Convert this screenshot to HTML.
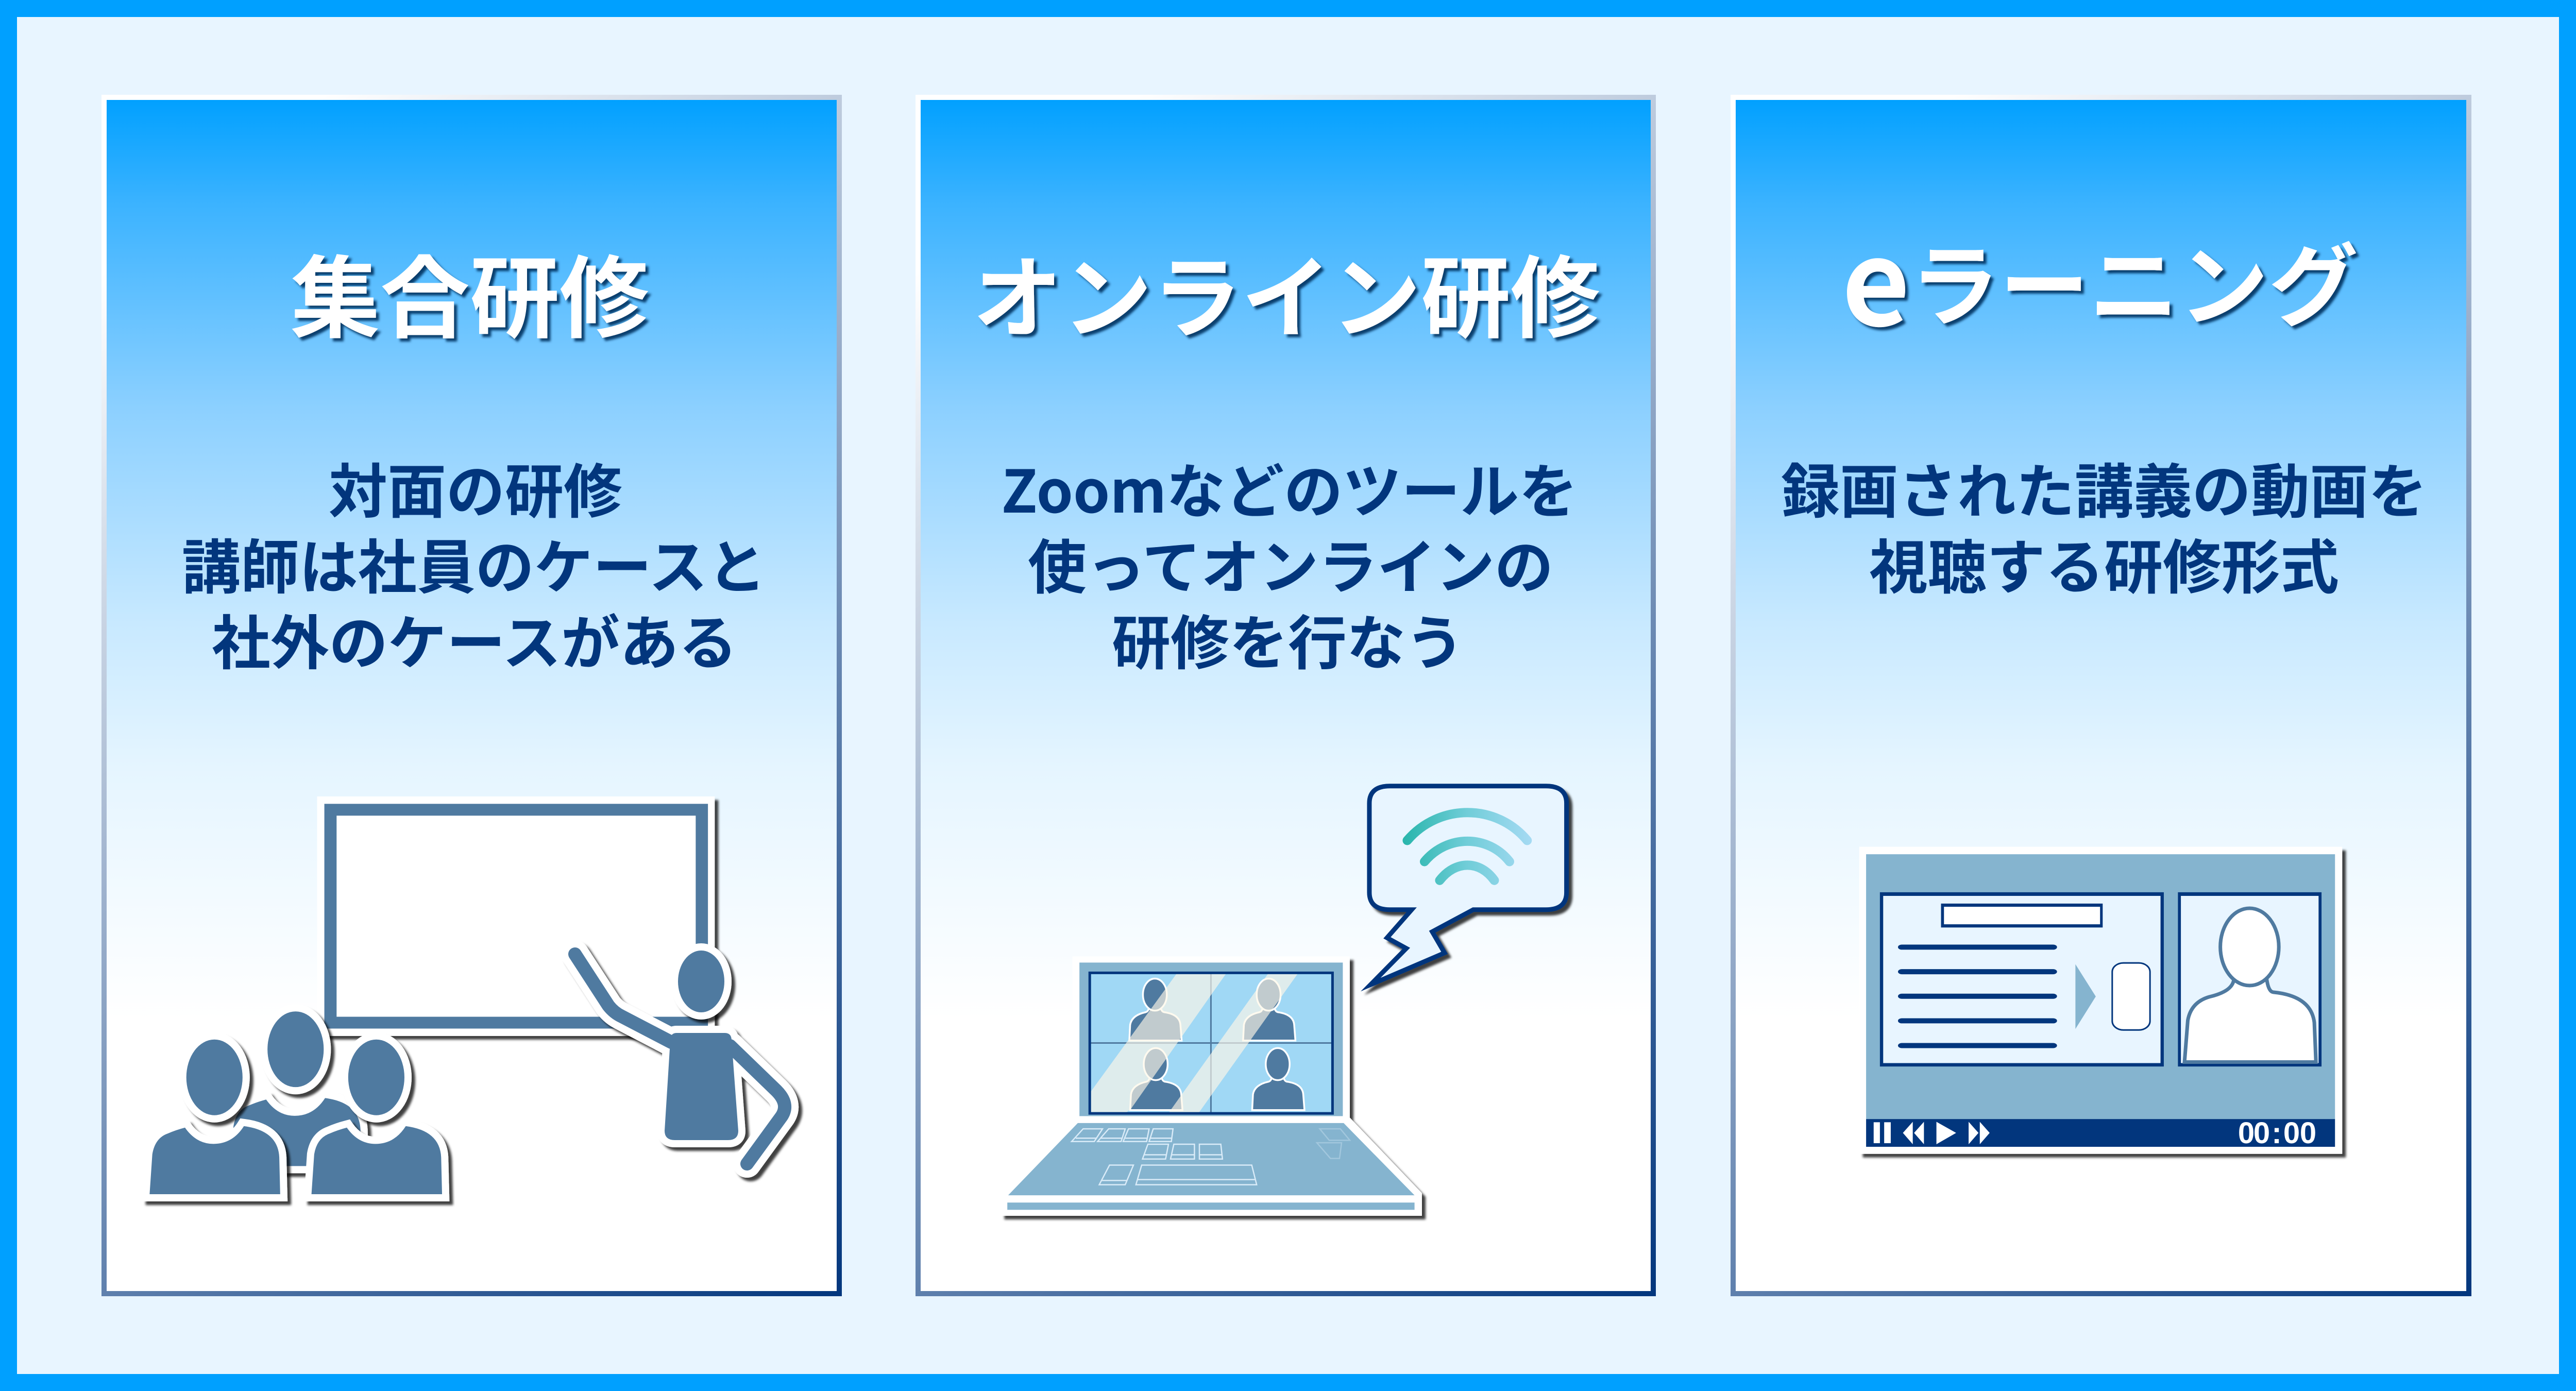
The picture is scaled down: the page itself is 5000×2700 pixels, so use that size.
<!DOCTYPE html>
<html lang="ja"><head><meta charset="utf-8"><title>研修形式</title>
<style>
html,body{margin:0;padding:0;background:#00a0ff}
svg{display:block}
.t{font-family:"Noto Sans CJK JP","Liberation Sans",sans-serif;font-weight:700;text-anchor:middle}
.h{font-size:174px;fill:#fff}
.b{font-size:114px;fill:#02367d}
</style></head><body>
<svg xmlns="http://www.w3.org/2000/svg" width="5000" height="2700" viewBox="0 0 5000 2700">
<defs>
<linearGradient id="f" x1="0" y1="0" x2="0" y2="1">
<stop offset="0" stop-color="#00a0ff"/><stop offset=".09" stop-color="#3cb3ff"/><stop offset=".26" stop-color="#8cd0ff"/><stop offset=".44" stop-color="#c8e9ff"/><stop offset=".56" stop-color="#e5f5ff"/><stop offset=".77" stop-color="#fff"/><stop offset="1" stop-color="#fff"/>
</linearGradient>
<linearGradient id="s1" gradientUnits="userSpaceOnUse" x1="197" y1="184" x2="1895" y2="2309"><stop offset=".1" stop-color="#fff"/><stop offset="1" stop-color="#02367d"/></linearGradient>
<linearGradient id="s2" gradientUnits="userSpaceOnUse" x1="1777" y1="184" x2="3475" y2="2309"><stop offset=".1" stop-color="#fff"/><stop offset="1" stop-color="#02367d"/></linearGradient>
<linearGradient id="s3" gradientUnits="userSpaceOnUse" x1="3359" y1="184" x2="5057" y2="2309"><stop offset=".1" stop-color="#fff"/><stop offset="1" stop-color="#02367d"/></linearGradient>
<linearGradient id="w" gradientUnits="userSpaceOnUse" x1="1030" y1="0" x2="1345" y2="0"><stop offset="0" stop-color="#27b5ab"/><stop offset=".5" stop-color="#70cdd8"/><stop offset="1" stop-color="#a5daf3"/></linearGradient>
<filter id="ts" x="-10%" y="-20%" width="120%" height="140%"><feDropShadow dx="6" dy="6" stdDeviation="2.5" flood-color="#06325f" flood-opacity=".9"/></filter>
<filter id="sh" x="-10%" y="-10%" width="120%" height="120%"><feDropShadow dx="7" dy="7" stdDeviation="2.5" flood-color="#000" flood-opacity=".75"/></filter>
<g id="p1body">
<path vector-effect="non-scaling-stroke" d="M-143,395 L-137,260 Q-131,205 -103,190 Q-85,178 -65,170 Q-40,225 -2,225 Q40,225 65,165 Q140,180 143,270 L145,395 Z"/>
<ellipse vector-effect="non-scaling-stroke" cx="0" cy="0" rx="62" ry="128"/>
</g>
<g id="p2">
<path vector-effect="non-scaling-stroke" d="M-62,152 L-60,100 Q-56,68 -22,58 Q-15,55 -14,40 L14,40 Q15,55 22,58 Q60,65 62,100 L65,152 Z"/>
<ellipse vector-effect="non-scaling-stroke" cx="0" cy="0" rx="29" ry="53"/>
</g>
</defs>

<rect width="5000" height="2700" fill="#00a0ff"/>
<rect x="33" y="33" width="4934" height="2634" fill="#e8f5ff"/>

<rect x="202" y="189" width="1427" height="2322" fill="url(#f)" stroke="url(#s1)" stroke-width="10"/>
<rect x="1782" y="189" width="1427" height="2322" fill="url(#f)" stroke="url(#s2)" stroke-width="10"/>
<rect x="3364" y="189" width="1428" height="2322" fill="url(#f)" stroke="url(#s3)" stroke-width="10"/>

<g class="t h" filter="url(#ts)"><text x="912" y="641">集合研修</text></g>
<g class="t h" filter="url(#ts)"><text x="2497" y="641">オンライン研修</text></g>
<g class="t h" filter="url(#ts)"><text x="3575" y="632" font-size="228" style="font-size:228px;text-anchor:start">e</text><text x="3707" y="618" style="text-anchor:start">ラーニング</text></g>

<g class="t b">
<text x="923" y="995">対面の研修</text>
<text x="920" y="1142">講師は社員のケースと</text>
<text x="921" y="1289">社外のケースがある</text>
<text x="2503" y="995">Zoomなどのツールを</text>
<text x="2505" y="1142">使ってオンラインの</text>
<text x="2500" y="1289">研修を行なう</text>
<text x="4084" y="995">録画された講義の動画を</text>
<text x="4084" y="1142">視聴する研修形式</text>
</g>

<!-- scene 1 -->
<g filter="url(#sh)"><g transform="translate(230,1500) scale(.8801,.574)">
<rect x="438" y="80" width="877" height="810" fill="#fff"/>
<rect x="454" y="105" width="846" height="760" fill="#4f7aa0"/>
<rect x="481" y="145" width="792" height="680" fill="#fff"/>
</g></g>
<g filter="url(#sh)"><g transform="translate(227,1500) scale(.8801,.574)" fill="#4f7aa0" stroke="#fff" stroke-width="28" stroke-linejoin="miter" stroke-miterlimit="3" paint-order="stroke">
<use href="#p1body" transform="translate(394,935)"/>
</g></g>
<g filter="url(#sh)"><g transform="translate(227,1500) scale(.8801,.574)" fill="#4f7aa0" stroke="#fff" stroke-width="28" stroke-linejoin="miter" stroke-miterlimit="3" paint-order="stroke">
<use href="#p1body" transform="translate(215,1030)"/>
</g></g>
<g filter="url(#sh)"><g transform="translate(227,1500) scale(.8801,.574)" fill="#4f7aa0" stroke="#fff" stroke-width="28" stroke-linejoin="miter" stroke-miterlimit="3" paint-order="stroke">
<use href="#p1body" transform="translate(572,1030)"/>
</g></g>
<g filter="url(#sh)">
<g fill="none" stroke="#fff" stroke-width="54" stroke-linecap="round" stroke-linejoin="round">
<path d="M1116,1852 L1181,1952 Q1192,1966 1207,1973 L1303,2023"/>
<path d="M1417,2030 L1507,2117 Q1533,2143 1517,2167 L1450,2259"/>
</g>
<path d="M1313,2005 H1407 Q1420,2005 1420,2020 L1433,2195 Q1433,2213 1413,2213 H1310 Q1290,2213 1290,2195 L1301,2020 Q1301,2005 1313,2005 Z" fill="#fff" stroke="#fff" stroke-width="28"/>
<ellipse cx="1361" cy="1905" rx="45" ry="60" fill="#fff" stroke="#fff" stroke-width="28"/>
<g fill="none" stroke="#4f7aa0" stroke-width="26" stroke-linecap="round" stroke-linejoin="round">
<path d="M1116,1852 L1181,1952 Q1192,1966 1207,1973 L1303,2023"/>
<path d="M1417,2030 L1507,2117 Q1533,2143 1517,2167 L1450,2259"/>
</g>
<path d="M1313,2005 H1407 Q1420,2005 1420,2020 L1433,2195 Q1433,2213 1413,2213 H1310 Q1290,2213 1290,2195 L1301,2020 Q1301,2005 1313,2005 Z" fill="#4f7aa0"/>
<ellipse cx="1361" cy="1905" rx="45" ry="60" fill="#4f7aa0"/>
</g>

<!-- scene 2 -->
<g filter="url(#sh)"><g transform="translate(1896,1480) scale(.8,.5867)">
<path d="M232,642 H905 V1175 L1080,1425 V1500 H58 V1430 L232,1180 Z" fill="#fff"/>
</g></g>
<g transform="translate(1896,1480) scale(.8,.5867)">
<rect x="249" y="662" width="639" height="508" fill="#85b4cf"/>
<rect x="272" y="692" width="593" height="473" fill="#a0d8f5"/>
<path vector-effect="non-scaling-stroke" d="M568,695 V1162 M275,928 H862" stroke="#4f7aa0" stroke-width="3" fill="none"/>
<g fill="#4f7aa0" stroke="#fff" stroke-width="3.5">
<use href="#p2" transform="translate(432,768)"/>
<use href="#p2" transform="translate(708,768)"/>
<use href="#p2" transform="translate(434,998)"/>
<use href="#p2" transform="translate(730,998)"/>
</g>
<path d="M484,700 H604 L373,1148 L360,1160 H276 V1090 Z M706,700 H778 L538,1160 H465 Z" fill="#fff8e6" fill-opacity=".65"/>
<rect x="274" y="696" width="589" height="465" fill="none" stroke="#02367d" stroke-width="5" vector-effect="non-scaling-stroke"/>
<path d="M245,1193 H890 L1062,1432 H76 Z" fill="#85b4cf"/>
<rect x="74" y="1456" width="988" height="24" fill="#85b4cf"/>
<g fill="none" stroke="#e8f5ff" stroke-width="2.5" stroke-opacity=".85">
<path vector-effect="non-scaling-stroke" d="M258,1212 H305 L285,1254 H230 Z M240,1243 H290 M320,1212 H360 L350,1254 H293 Z M300,1243 H352 M368,1212 H418 L412,1254 H355 Z M360,1243 H412 M428,1212 H476 L472,1254 H418 Z M422,1243 H472"/>
<path vector-effect="non-scaling-stroke" d="M415,1263 H465 L458,1312 H402 Z M405,1298 H460 M478,1263 H528 V1312 H470 Z M472,1298 H528 M540,1263 H592 L596,1312 H540 Z M540,1298 H594"/>
<path vector-effect="non-scaling-stroke" d="M322,1332 H380 L360,1397 H297 Z M302,1383 H364 M400,1332 H667 L679,1397 H386 Z M390,1380 H676"/>
</g>
<g fill="none" stroke="#e8f5ff" stroke-width="2.5" stroke-opacity=".3">
<path vector-effect="non-scaling-stroke" d="M832,1212 H882 L905,1250 H855 Z M825,1258 H885 L880,1310 H858 Z"/>
</g>
</g>
<g filter="url(#sh)"><g transform="translate(1899,1480) scale(.7972,.5867)">
<path vector-effect="non-scaling-stroke" d="M1002,78 H1382 Q1432,78 1432,135 V430 Q1432,487 1382,487 H1205 L1105,560 L1135,630 L955,735 L1042,615 L995,580 L1055,487 H1002 Q952,487 952,430 V135 Q952,78 1002,78 Z" fill="#e8f5ff" stroke="#02367d" stroke-width="9" stroke-miterlimit="10"/>
</g></g>
<g transform="translate(1900,1480) scale(.7972,.5867)" fill="none" stroke="url(#w)" stroke-width="18" stroke-linecap="round">
<path vector-effect="non-scaling-stroke" d="M1043,258 C1120,135 1260,135 1335,258"/>
<path vector-effect="non-scaling-stroke" d="M1085,328 C1140,238 1240,238 1292,328"/>
<path vector-effect="non-scaling-stroke" d="M1122,390 C1160,323 1220,323 1255,390"/>
</g>

<!-- scene 3 -->
<g filter="url(#sh)"><g transform="translate(3580,1620) scale(.6378,.4145)">
<rect x="45" y="57" width="1470" height="1438" fill="#fff"/>
</g></g>
<g transform="translate(3580,1620) scale(.6378,.4145)">
<rect x="66" y="92" width="1427" height="1240" fill="#85b4cf"/>
<rect x="66" y="1332" width="1427" height="130" fill="#02367d"/>
<rect x="108" y="270" width="864" height="816" fill="#02367d"/>
<rect x="118" y="287" width="844" height="783" fill="#e8f5ff"/>
<rect x="294" y="323" width="492" height="112" fill="#02367d"/>
<rect x="303" y="338" width="475" height="82" fill="#fff"/>
<g fill="#02367d">
<rect x="163" y="515" width="484" height="24" rx="12" ry="12"/>
<rect x="163" y="630" width="484" height="24" rx="12" ry="12"/>
<rect x="163" y="745" width="484" height="24" rx="12" ry="12"/>
<rect x="163" y="860" width="484" height="24" rx="12" ry="12"/>
<rect x="163" y="976" width="484" height="24" rx="12" ry="12"/>
</g>
<path d="M703,607 L765,758 L703,910 Z" fill="#85b4cf"/>
<rect x="815" y="601" width="115" height="314" rx="34" ry="42" fill="#fff" stroke="#02367d" stroke-width="3" vector-effect="non-scaling-stroke"/>
<rect x="1015" y="270" width="437" height="816" fill="#02367d"/>
<rect x="1024" y="287" width="419" height="783" fill="#e8f5ff"/>
<g fill="#fff" stroke="#4f7aa0" stroke-width="7">
<path vector-effect="non-scaling-stroke" d="M1035,1065 L1045,870 Q1055,785 1110,760 Q1180,735 1185,680 L1285,675 Q1290,735 1305,738 Q1420,755 1430,880 L1435,1065 Z"/>
<ellipse vector-effect="non-scaling-stroke" cx="1233" cy="526" rx="89" ry="181"/>
</g>
<g fill="#fff">
<rect x="89" y="1347" width="19" height="98"/><rect x="121" y="1347" width="20" height="98"/>
<path d="M208,1345 L178,1397 L208,1450 Z M242,1345 L212,1397 L242,1450 Z M280,1345 L340,1397 L280,1450 Z M378,1345 L408,1397 L378,1450 Z M412,1345 L442,1397 L412,1450 Z"/>
</g>
</g>
<text x="4360 4390 4419 4448 4480" y="2219" font-family="Liberation Sans, sans-serif" font-weight="700" font-size="58" fill="#fff" text-anchor="middle">00:00</text>
</svg>
</body></html>
